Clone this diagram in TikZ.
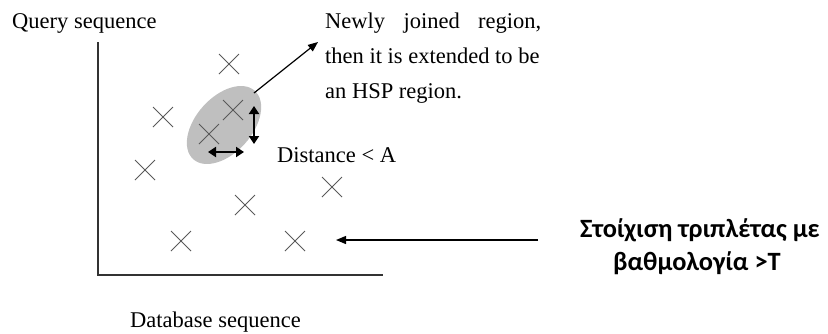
\documentclass[tikz,border=0pt]{standalone}
\usepackage{fontspec}
\setmainfont{Liberation Serif}
\newfontfamily\grfont{Carlito}
\usetikzlibrary{shapes.misc,shapes.geometric,arrows.meta}

\tikzset{
  axisline/.style={line width=1.5pt, draw=black!80},
  hit/.style={cross out, draw=black!65, line width=1pt, minimum size=19pt, inner sep=0pt},
  region/.style={ellipse, fill=black!25, minimum width=92pt, minimum height=56pt, inner sep=0pt},
  gap/.style={line width=2.4pt, {Triangle[length=8pt,width=10pt]}-{Triangle[length=8pt,width=10pt]}},
  pointer/.style={line width=1.2pt, -{Triangle[length=10pt,width=8pt]}},
  lbl/.style={font=\fontsize{22.5}{27}\selectfont, inner sep=0pt, anchor=base west},
  grlbl/.style={font=\grfont\bfseries\fontsize{26.4}{32}\selectfont, inner sep=0pt, anchor=base}
}

\begin{document}
\begin{tikzpicture}[x=1pt, y=-1pt]
\useasboundingbox (0,0) rectangle (828,333);

% axes
\coordinate (ytop) at (98,42);
\coordinate (origin) at (98,275);
\coordinate (xend) at (383,275);
\draw[axisline] (ytop) -- (origin) -- (xend);

% joined region
\node[region, rotate=48] (hsp) at (224,125) {};

% word hits
\node[hit] (c1) at (229,64) {};
\node[hit] (c2) at (163,117) {};
\node[hit] (c3) at (233,110) {};
\node[hit] (c4) at (209,134) {};
\node[hit] (c5) at (145,170) {};
\node[hit] (c6) at (332,187) {};
\node[hit] (c7) at (245,205) {};
\node[hit] (c8) at (181,241) {};
\node[hit] (c9) at (295,241) {};

% distance markers
\coordinate (vtop) at (254,106);
\coordinate (vbot) at (254,144);
\draw[gap] (vtop) -- (vbot);
\coordinate (hleft) at (208,152);
\coordinate (hright) at (244,152);
\draw[gap] (hleft) -- (hright);

% labels
\node[lbl] (query) at (12,28) {Query sequence};
\node[lbl] (db) at (130,327) {Database sequence};
\node[lbl] (dist) at (277,162) {Distance < A};
\node[lbl] (n1) at (325,28) {\makebox[216pt][s]{Newly joined region,}};
\node[lbl] (n2) at (325,63) {then it is extended to be};
\node[lbl] (n3) at (325,98) {an HSP region.};

\node[grlbl] (g1) at (700,237) {Στοίχιση τριπλέτας με};
\node[grlbl] (g2) at (697,270) {βαθμολογία >T};

% pointers
\coordinate (rstart) at (254,93);
\coordinate (rtip) at (318,42);
\draw[pointer] (rstart) -- (rtip);
\coordinate (tstart) at (538,240);
\coordinate (ttip) at (336,240);
\draw[pointer] (tstart) -- (ttip);
\end{tikzpicture}
\end{document}
